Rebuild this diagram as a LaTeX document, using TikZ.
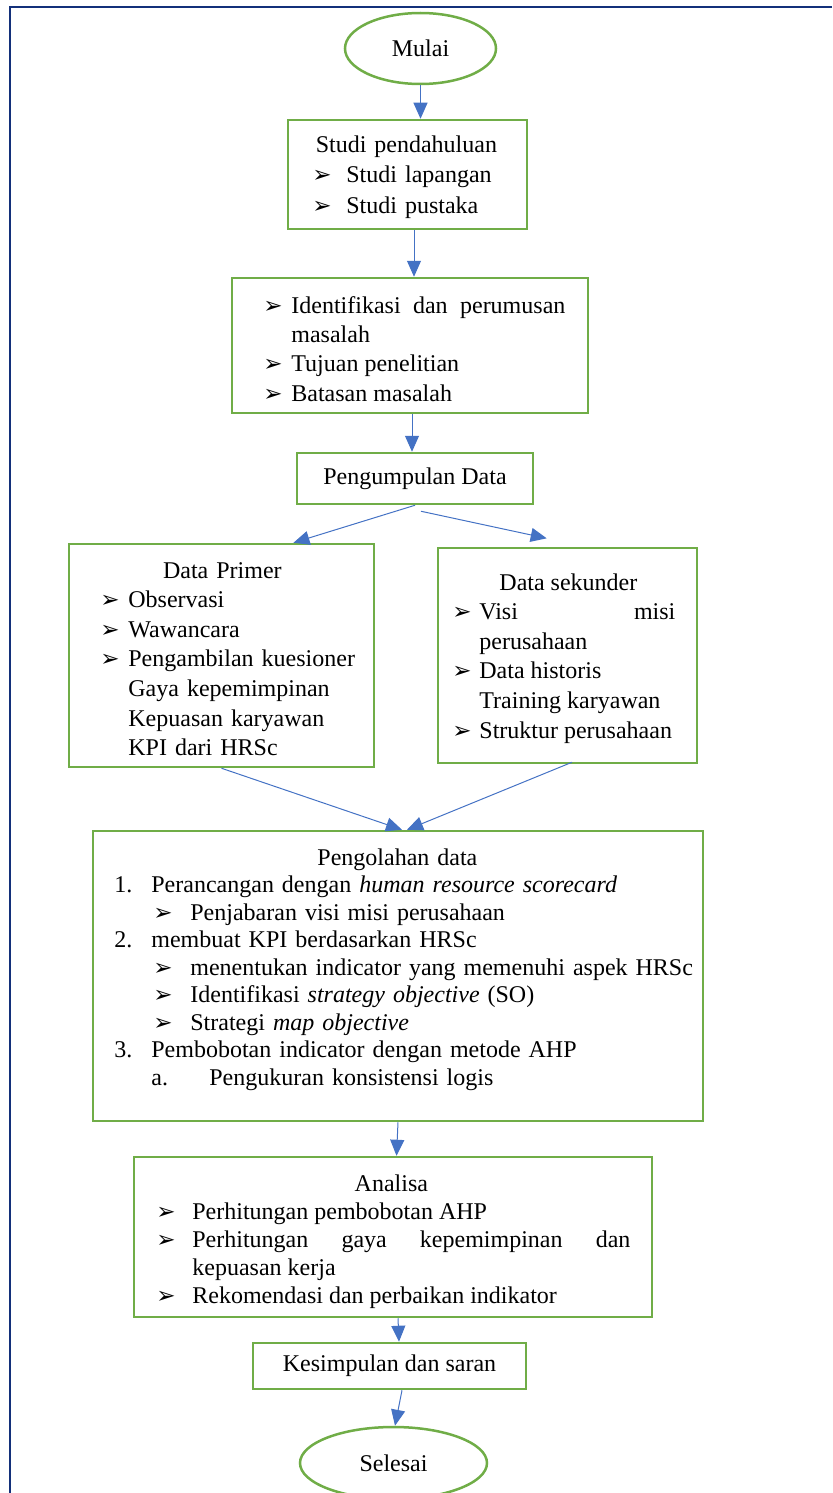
\documentclass[tikz,border=0pt]{standalone}
\usepackage{fontspec}
\setmainfont{Liberation Serif}
\newfontfamily\dingfont{DejaVu Sans}
\usepackage{xcolor}
\usetikzlibrary{shapes.geometric, arrows.meta, calc}

\definecolor{boxgreen}{HTML}{70AD47}
\definecolor{arrowblue}{HTML}{4472C4}
\definecolor{framenavy}{HTML}{13307A}

\hyphenpenalty=10000
\exhyphenpenalty=10000

\newcommand\tipmark{{\dingfont\fontsize{11.5}{11.5}\selectfont\char"27A2}}
\newcommand\ttl[2]{\makebox[#1][c]{#2}\par}
\newcommand\litem[4]{\hangindent=#2\relax\hangafter=1\hspace*{#1}\makebox[\dimexpr#2-#1\relax][l]{#3}#4\par}
\newcommand\bul[3][0pt]{\litem{#1}{#2}{\tipmark}{#3}}
\newcommand\cont[2]{\hspace*{#1}#2\par}

\begin{document}
\begin{tikzpicture}[x=0.5pt, y=-0.5pt,
    gbox/.style={draw=boxgreen, line width=1.25pt, inner sep=0pt, font=\fontsize{12}{15}\selectfont},
    oval/.style={ellipse, draw=boxgreen, line width=1.25pt, inner sep=0pt, font=\fontsize{12}{15}\selectfont},
    txt/.style={anchor=base west, inner sep=0pt, font=\fontsize{12}{15}\selectfont},
    arr/.style={draw=arrowblue, line width=0.5pt, -{Triangle[length=8pt,width=7pt]}}]
  \useasboundingbox (0,0) rectangle (832,1493);

  % page frame
  \draw[framenavy, line width=1.25pt] (832,7) -- (10,7) -- (10,1493);

  % Mulai
  \node[oval, minimum width=75.5pt, minimum height=35.5pt] (mulai) at (420.5,48.5) {Mulai};

  % Studi pendahuluan
  \node[gbox, minimum width=119.5pt, minimum height=54.5pt] (studi) at (407.5,174.5) {};
  \node[txt, text width=94pt] (studi-t) at (312,153)
    {\ttl{94pt}{Studi pendahuluan}\bul{17pt}{Studi lapangan}\bul{17pt}{Studi pustaka}};

  % Identifikasi masalah
  \node[gbox, minimum width=178pt, minimum height=67.5pt] (ident) at (410,345.5) {};
  \node[txt, text width=151pt, align=justify, font=\fontsize{12}{14.67}\selectfont] (ident-t) at (263,313)
    {\bul{14pt}{Identifikasi dan perumusan\linebreak masalah}\bul{14pt}{Tujuan penelitian}\bul{14pt}{Batasan masalah}};

  % Pengumpulan Data
  \node[gbox, minimum width=118pt, minimum height=25.5pt] (kumpul) at (415,478.5) {Pengumpulan Data};

  % Data primer
  \node[gbox, minimum width=152.5pt, minimum height=111.5pt] (primer) at (221.5,655.5) {};
  \node[txt, text width=135pt, align=left, font=\fontsize{12}{14.83}\selectfont] (primer-t) at (100,578)
    {\ttl{122pt}{Data Primer}\bul{14pt}{Observasi}\bul{14pt}{Wawancara}\bul{14pt}{Pengambilan kuesioner}%
     \cont{14pt}{Gaya kepemimpinan}\cont{14pt}{Kepuasan karyawan}\cont{14pt}{KPI dari HRSc}};

  % Data sekunder
  \node[gbox, minimum width=129.5pt, minimum height=107.5pt] (sekunder) at (567.5,655.5) {};
  \node[txt, text width=111.5pt, align=justify, font=\fontsize{12}{14.8}\selectfont] (sekunder-t) at (452,590)
    {\ttl{116pt}{Data sekunder}\bul{13.5pt}{Visi misi\linebreak perusahaan}\bul{13.5pt}{Data historis}%
     \cont{13.5pt}{Training karyawan}\bul{13.5pt}{Struktur perusahaan}};

  % Pengolahan data
  \node[gbox, minimum width=305pt, minimum height=145pt] (olah) at (398,976) {};
  \node[txt, text width=300pt, align=left, font=\fontsize{12}{13.75}\selectfont] (olah-t) at (114,865)
    {\ttl{283pt}{Pengolahan data}%
     \litem{0pt}{18.5pt}{1.}{Perancangan dengan \textit{human resource scorecard}}%
     \bul[19.5pt]{38pt}{Penjabaran visi misi perusahaan}%
     \litem{0pt}{18.5pt}{2.}{membuat KPI berdasarkan HRSc}%
     \bul[19.5pt]{38pt}{menentukan indicator yang memenuhi aspek HRSc}%
     \bul[19.5pt]{38pt}{Identifikasi \textit{strategy objective} (SO)}%
     \bul[19.5pt]{38pt}{Strategi \textit{map objective}}%
     \litem{0pt}{18.5pt}{3.}{Pembobotan indicator dengan metode AHP}%
     \litem{18.5pt}{47.5pt}{a.}{Pengukuran konsistensi logis}};

  % Analisa
  \node[gbox, minimum width=259pt, minimum height=80pt] (analisa) at (393,1237) {};
  \node[txt, text width=237pt, align=justify, font=\fontsize{12}{14}\selectfont] (analisa-t) at (156,1191)
    {\ttl{235pt}{Analisa}\bul{18pt}{Perhitungan pembobotan AHP}%
     \bul{18pt}{Perhitungan gaya kepemimpinan dan\linebreak kepuasan kerja}%
     \bul{18pt}{Rekomendasi dan perbaikan indikator}};

  % Kesimpulan
  \node[gbox, minimum width=136.5pt, minimum height=23pt] (kesimpulan) at (389.5,1366) {Kesimpulan dan saran};

  % Selesai
  \node[oval, minimum width=93.5pt, minimum height=36pt] (selesai) at (393.5,1463) {Selesai};

  % connectors
  \draw[arr] (mulai.south) -- (mulai.south |- studi.north);
  \draw[arr] ($(studi.south)+(6.5,0)$) -- ($(ident.north)+(4,0)$);
  \draw[arr] ($(ident.south)+(2,0)$) -- ($(kumpul.north)+(-3,0)$);
  \draw[arr] (kumpul.south) -- ($(primer.north west)!0.734!(primer.north east)$);
  \draw[arr, shorten >=20pt] ($(kumpul.south)+(6,6)$) -- ($(sekunder.north west)!0.57!(sekunder.north east)$);
  \draw[arr] (primer.south) -- ($(olah.north)+(4,0)$);
  \draw[arr] ($(sekunder.south)+(4.5,-2)$) -- ($(olah.north)+(9,0)$);
  \draw[arr] (olah.south) -- ($(analisa.north)+(3.5,0)$);
  \draw[arr] ($(analisa.south)+(5,0)$) -- ($(kesimpulan.north)+(9.5,0)$);
  \draw[arr] ($(kesimpulan.south)+(12.5,0)$) -- ($(selesai.north)+(1.5,0)$);
\end{tikzpicture}
\end{document}
